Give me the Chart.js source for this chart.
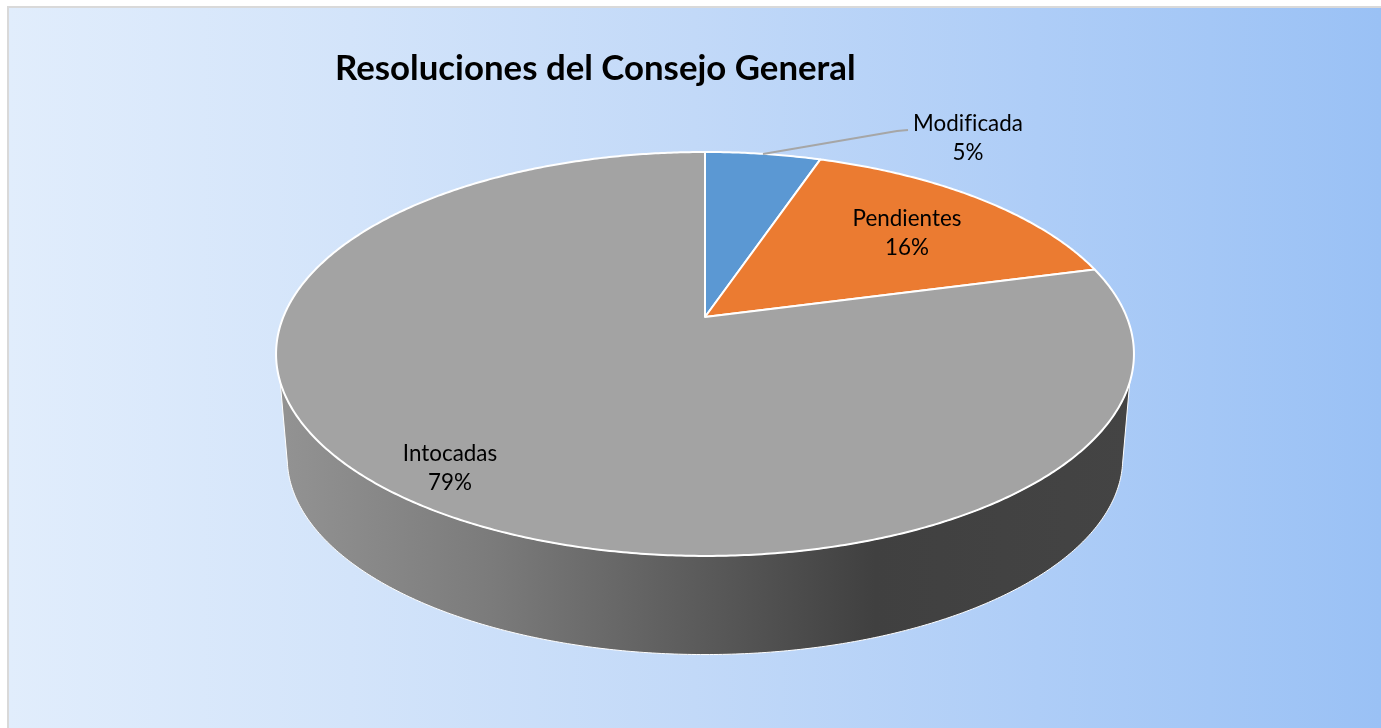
<!DOCTYPE html>
<html lang="es">
<head>
<meta charset="utf-8">
<title>Resoluciones del Consejo General</title>
<script src="https://cdn.jsdelivr.net/npm/chart.js@4/dist/chart.umd.min.js"></script>
<style>
  html, body { margin: 0; padding: 0; background: #fff; }
  canvas { display: block; }
</style>
</head>
<body>
<canvas id="pieChart" width="1381" height="728"></canvas>
<script>
const chartTitle = 'Resoluciones del Consejo General';
const categories = ['Modificada', 'Pendientes', 'Intocadas'];
const shares = [5.2, 15.7, 79.1];
const sliceColors = ['#5b98d3', '#eb7b31', '#a3a3a3'];

// Perspective tilt of the pie: far edge looks smaller than the near edge
const TILT = 0.183;
const TOP_DISC = { cx: 705, cy: 317, rx: 421.7, ry: 195.2 };
const BASE_DISC = { cx: 705, cy: 422, rx: 410.7, ry: 190 };
const RAD = Math.PI / 180;

function project(disc, angle) {
  const w = 1 - TILT * Math.sin(angle);
  return {
    x: disc.cx + disc.rx * Math.cos(angle) / w,
    y: disc.cy + disc.ry * Math.sin(angle) / w
  };
}

function traceRim(ctx, disc, from, to) {
  const steps = Math.ceil(Math.abs(to - from) / (0.5 * RAD));
  for (let i = 0; i <= steps; i++) {
    const p = project(disc, from + (to - from) * i / steps);
    ctx.lineTo(p.x, p.y);
  }
}

function drawWall(ctx) {
  const wall = ctx.createLinearGradient(278, 0, 1131, 0);
  wall.addColorStop(0, '#939393');
  wall.addColorStop(0.25, '#7b7b7b');
  wall.addColorStop(0.5, '#5a5a5a');
  wall.addColorStop(0.7, '#404040');
  wall.addColorStop(1, '#444444');

  ctx.beginPath();
  traceRim(ctx, TOP_DISC, 18.3 * RAD, 161.7 * RAD);
  traceRim(ctx, BASE_DISC, 168 * RAD, 12 * RAD);
  ctx.closePath();
  ctx.fillStyle = wall;
  ctx.fill();
  ctx.strokeStyle = '#ffffff';
  ctx.lineWidth = 1;
  ctx.stroke();
}

const pie3dPlugin = {
  id: 'pie3d',
  beforeDraw(chart) {
    const { ctx, width, height } = chart;
    const bg = ctx.createLinearGradient(8, 0, width, 0);
    bg.addColorStop(0, '#e1edfc');
    bg.addColorStop(0.25, '#d3e4fa');
    bg.addColorStop(0.5, '#c2d9f8');
    bg.addColorStop(0.75, '#aecdf7');
    bg.addColorStop(1, '#9ac1f5');
    ctx.save();
    ctx.fillStyle = '#ffffff';
    ctx.fillRect(0, 0, width, height);
    ctx.fillStyle = '#d9d9d9';
    ctx.fillRect(7, 6, width - 7, height - 6);
    ctx.fillStyle = bg;
    ctx.fillRect(9, 8, width - 9, height - 8);
    ctx.restore();
  },
  // Arc angles come from the pie controller, only the projection is ours
  beforeDatasetDraw(chart, args) {
    const ctx = chart.ctx;
    ctx.save();
    drawWall(ctx);
    args.meta.data.forEach((arc) => {
      const { startAngle, endAngle } = arc.getProps(['startAngle', 'endAngle'], true);
      ctx.beginPath();
      ctx.moveTo(TOP_DISC.cx, TOP_DISC.cy);
      traceRim(ctx, TOP_DISC, startAngle, endAngle);
      ctx.closePath();
      ctx.fillStyle = arc.options.backgroundColor;
      ctx.fill();
      ctx.strokeStyle = arc.options.borderColor;
      ctx.lineWidth = arc.options.borderWidth;
      ctx.lineJoin = 'round';
      ctx.stroke();
    });
    ctx.restore();
    return false;
  },
  afterDraw(chart) {
    const ctx = chart.ctx;
    const total = shares.reduce((a, b) => a + b, 0);
    const labelSpots = [[968, 124], [907, 219], [450, 454]];

    ctx.save();
    // leader line of the small slice
    ctx.beginPath();
    ctx.moveTo(763, 154);
    ctx.lineTo(897, 131);
    ctx.lineTo(908, 130);
    ctx.strokeStyle = '#a6a6a6';
    ctx.lineWidth = 2;
    ctx.stroke();

    ctx.fillStyle = '#000000';
    ctx.textBaseline = 'alphabetic';
    ctx.textAlign = 'left';
    ctx.font = 'bold 34.8px Lato';
    ctx.fillText(chartTitle, 335, 80);

    ctx.textAlign = 'center';
    ctx.textBaseline = 'middle';
    ctx.font = '22.4px Lato';
    ctx.letterSpacing = '0.01px'; // keeps "fi" from turning into a ligature
    categories.forEach((name, i) => {
      const [x, y] = labelSpots[i];
      ctx.fillText(name, x, y);
      ctx.fillText(Math.round(shares[i] / total * 100) + '%', x, y + 29);
    });
    ctx.restore();
  }
};

new Chart(document.getElementById('pieChart'), {
  type: 'pie',
  data: {
    labels: categories,
    datasets: [{
      data: shares,
      backgroundColor: sliceColors,
      borderColor: '#ffffff',
      borderWidth: 2
    }]
  },
  options: {
    responsive: false,
    animation: false,
    events: [],
    plugins: {
      legend: { display: false },
      title: { display: false },
      tooltip: { enabled: false }
    }
  },
  plugins: [pie3dPlugin]
});
</script>
</body>
</html>
